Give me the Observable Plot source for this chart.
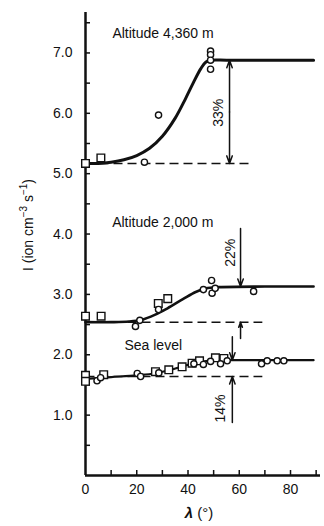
<!DOCTYPE html>
<html><head><meta charset="utf-8">
<script src="https://cdn.jsdelivr.net/npm/d3@7"></script>
<script src="https://cdn.jsdelivr.net/npm/@observablehq/plot@0.6"></script>
<style>body{margin:0;background:#fff} svg{display:block}</style>
</head><body><div id="chart"></div>
<script>
// ---- data (x = λ in degrees, y = I in ion cm^-3 s^-1) ----
const curveHigh = [[0,5.17],[5,5.17],[10,5.19],[15,5.23],[20,5.3],[25,5.42],[30,5.62],[35,5.92],[39,6.24],[42,6.5],[45,6.74],[47,6.85],[49,6.88],[55,6.88],[70,6.88],[89,6.88]];
const curveMid  = [[0,2.54],[10,2.54],[17,2.55],[22,2.58],[27,2.66],[32,2.77],[38,2.92],[43,3.04],[47,3.1],[52,3.12],[70,3.13],[89,3.13]];
const curveSea  = [[0,1.6],[10,1.63],[20,1.66],[27,1.69],[33,1.75],[38,1.81],[43,1.87],[48,1.9],[55,1.91],[70,1.91],[89,1.91]];

const squaresHigh = [[0,5.17],[6,5.26]];
const circlesHigh = [[23,5.19],[28.5,5.97],[48.8,7.03],[48.8,6.97],[48.8,6.88],[48.8,6.73]];
const squaresMid  = [[0,2.64],[6.1,2.64],[28.4,2.85],[32.1,2.93]];
const circlesMid  = [[19.5,2.47],[21.2,2.57],[28.5,2.75],[46,3.08],[49.2,3.23],[49.4,3.02],[50.6,3.1],[65.6,3.05]];
const squaresSea  = [[0,1.66],[0,1.56],[7.1,1.67],[27.3,1.72],[32.5,1.75],[37.7,1.8],[41.6,1.86],[44.5,1.9],[50.7,1.95],[54,1.94]];
const circlesSea  = [[4.5,1.57],[5.9,1.62],[20.2,1.69],[21.5,1.64],[28.6,1.7],[42.3,1.85],[46,1.84],[48.8,1.89],[52.7,1.85],[55.3,1.9],[68.7,1.85],[70.9,1.9],[74.8,1.9],[77.4,1.9]];

// baselines (dashed): [xStart, xEnd, y]
const baselines = [[0,63.7,5.17],[0,69,2.54],[0,69,1.64]];
// arrows: [x, yFrom, yTo]
const arrows = [[56.2,6.02,6.88],[56.2,6.02,5.17],[60.5,4.09,3.13],[60.5,2.27,2.54],[57.3,2.3,1.91],[57.3,0.88,1.64]];
// group labels: [x, y, text]
const groupLabels = [[10.5,7.32,"Altitude 4,360 m"],[10.4,4.19,"Altitude 2,000 m"],[15.2,2.15,"Sea level"]];
// percent labels: [x, y, text]
const pctLabels = [[51.9,6.01,"33%"],[56.6,3.69,"22%"],[52.7,1.11,"14%"]];

const yLabelTicks = [1,2,3,4,5,6,7];
const yMinorTicks = [0.5,1,1.5,2,2.5,3,3.5,4,4.5,5,5.5,6,6.5,7,7.5];
const xLabelTicks = [0,20,40,60,80];
const xMinorTicks = [10,20,30,40,50,60,70,80,90];

const font = "Liberation Sans, Arial, Helvetica, sans-serif";
const ink = "#111";

const plot = Plot.plot({
  width: 324, height: 526,
  marginLeft: 85, marginRight: 4, marginTop: 12, marginBottom: 51,
  style: {fontFamily: font, fontSize: "14px", color: ink, background: "#fff"},
  x: {domain: [0, 91.7], axis: null},
  y: {domain: [0, 7.67], axis: null},
  marks: [
    // axes lines
    Plot.ruleX([0], {stroke: ink, strokeWidth: 2.5}),
    Plot.ruleY([0], {stroke: ink, strokeWidth: 2.5}),
    // inward ticks
    Plot.axisY({ticks: yMinorTicks, tickSize: 5, dx: 5, tickFormat: () => "", label: null, stroke: ink, strokeWidth: 1.5}),
    Plot.axisX({ticks: xMinorTicks, tickSize: 5, dy: -5, tickFormat: () => "", label: null, stroke: ink, strokeWidth: 1.5}),
    // tick labels
    Plot.axisY({ticks: yLabelTicks, tickSize: 0, tickPadding: 13, tickFormat: d => d.toFixed(1), label: null, fontSize: 14, fill: ink}),
    Plot.axisX({ticks: xLabelTicks, tickSize: 0, tickPadding: 9, tickFormat: d => String(d), label: null, fontSize: 14, fill: ink}),
    // dashed baselines
    Plot.link(baselines, {x1: d => d[0], x2: d => d[1], y1: d => d[2], y2: d => d[2], stroke: ink, strokeWidth: 1.5, strokeDasharray: "9,5"}),
    // curves
    Plot.line(curveHigh, {x: d => d[0], y: d => d[1], curve: "catmull-rom", stroke: ink, strokeWidth: 3}),
    Plot.line(curveMid, {x: d => d[0], y: d => d[1], curve: "catmull-rom", stroke: ink, strokeWidth: 2.6}),
    Plot.line(curveSea, {x: d => d[0], y: d => d[1], curve: "catmull-rom", stroke: ink, strokeWidth: 2.2}),
    // points
    ...[squaresHigh, squaresMid, squaresSea].map(s => Plot.dot(s, {x: d => d[0], y: d => d[1], symbol: "square", r: 4.3, fill: "#fff", stroke: ink, strokeWidth: 1.4})),
    ...[circlesHigh, circlesMid, circlesSea].map(s => Plot.dot(s, {x: d => d[0], y: d => d[1], r: 3.1, fill: "#fff", stroke: ink, strokeWidth: 1.4})),
    // arrows
    Plot.arrow(arrows, {x1: d => d[0], x2: d => d[0], y1: d => d[1], y2: d => d[2], stroke: ink, strokeWidth: 1.5, headLength: 8, headAngle: 40}),
    // labels
    Plot.text(groupLabels, {x: d => d[0], y: d => d[1], text: d => d[2], textAnchor: "start", fontSize: 14, fill: ink}),
    Plot.text(pctLabels, {x: d => d[0], y: d => d[1], text: d => d[2], rotate: -90, fontSize: 14, fill: ink})
  ]
});

const svg = d3.select(plot);
// x axis label
const xl = svg.append("text").attr("x", 199).attr("y", 518).attr("text-anchor", "middle")
  .attr("font-family", font).attr("font-size", 15).attr("fill", ink);
xl.append("tspan").attr("font-style", "italic").attr("font-weight", "bold").text("λ");
xl.append("tspan").text(" (°)");
// y axis label
const yl = svg.append("text").attr("transform", "translate(33,225) rotate(-90)").attr("text-anchor", "middle")
  .attr("font-family", font).attr("font-size", 14).attr("fill", ink);
yl.append("tspan").text("I (ion cm");
yl.append("tspan").attr("font-size", 10).attr("dy", -6).text("−3");
yl.append("tspan").attr("dy", 6).text(" s");
yl.append("tspan").attr("font-size", 10).attr("dy", -6).text("−1");
yl.append("tspan").attr("dy", 6).text(")");

document.getElementById("chart").appendChild(plot);
</script>
</body></html>
